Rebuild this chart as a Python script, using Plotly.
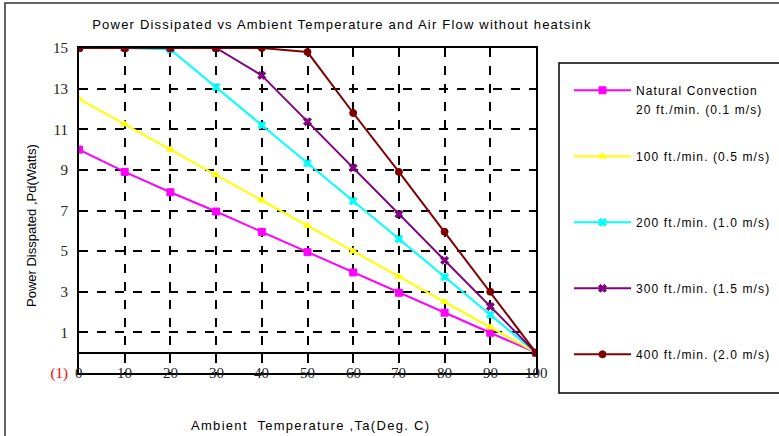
import plotly.graph_objects as go

ambient_temp = [0, 10, 20, 30, 40, 50, 60, 70, 80, 90, 100]
pd_natural = [10.0, 8.9, 7.9, 6.95, 5.95, 4.95, 3.95, 2.95, 1.97, 0.98, 0]
pd_100 = [12.5, 11.25, 10.0, 8.75, 7.5, 6.25, 5.0, 3.75, 2.5, 1.25, 0]
pd_200 = [15, 15, 14.93, 13.07, 11.2, 9.33, 7.47, 5.6, 3.73, 1.87, 0]
pd_300 = [15, 15, 15, 15, 13.65, 11.37, 9.1, 6.82, 4.55, 2.27, 0]
pd_400 = [15, 15, 15, 15, 15, 14.8, 11.8, 8.9, 5.95, 3.0, 0]

series_names = [
    "Natural Convection",
    "100 ft./min. (0.5 m/s)",
    "200 ft./min. (1.0 m/s)",
    "300 ft./min. (1.5 m/s)",
    "400 ft./min. (2.0 m/s)",
]
natural_second_line = "20 ft./min. (0.1 m/s)"
series_values = [pd_natural, pd_100, pd_200, pd_300, pd_400]
series_colors = ["#FF00FF", "#FFFF00", "#00FFFF", "#800080", "#800000"]
series_symbols = ["square", "triangle-up", "x", "x", "circle"]

y_tickvals = [-1, 1, 3, 5, 7, 9, 11, 13, 15]
y_ticktext = ["<span style='color:#FF0000'>(1)</span>", "1", "3", "5", "7", "9", "11", "13", "15"]
x_tickvals = [0, 10, 20, 30, 40, 50, 60, 70, 80, 90, 100]
x_ticktext = ["0", "10", "20", "30", "40", "50", "60", "70", "80", "90", "100"]

title_text = "Power Dissipated vs Ambient Temperature and Air Flow without heatsink"
x_title = "Ambient  Temperature ,Ta(Deg. C)"
y_title = "Power Disspated ,Pd(Watts)"

W, H = 779, 436
L, R, T, B = 79, 536, 48, 373
pw, ph = R - L, B - T


def px(xp):
    return (xp - L) / pw


def py(yp):
    return (B - yp) / ph


def spaced(t, ls):
    return "<span style='letter-spacing:%spx'>%s</span>" % (ls, t)


fig = go.Figure()
for name, vals, col, sym in zip(series_names, series_values, series_colors, series_symbols):
    fig.add_trace(go.Scatter(
        x=ambient_temp, y=vals, name=spaced(name, 1.1), mode="lines+markers",
        line=dict(color=col, width=2),
        marker=dict(symbol=sym, size=7, color=col, line=dict(color=col, width=1)),
        legendgroup=name,
    ))

serif = "Liberation Serif"
sans = "Liberation Sans"

annotations = []
for v, t in zip(x_tickvals, x_ticktext):
    annotations.append(dict(x=v, y=-1, xref="x", yref="y", text=t, showarrow=False,
                            xanchor="center", yanchor="middle",
                            font=dict(family=serif, size=15, color="#222")))
annotations.append(dict(x=px(310), y=py(425), xref="paper", yref="paper",
                        text=spaced(x_title, 1.3), showarrow=False,
                        xanchor="center", yanchor="middle",
                        font=dict(family=sans, size=13, color="black")))
annotations.append(dict(x=px(31), y=py(226), xref="paper", yref="paper",
                        text=y_title, showarrow=False, textangle=-90,
                        xanchor="center", yanchor="middle",
                        font=dict(family=sans, size=13, color="black")))
annotations.append(dict(x=px(634), y=py(110), xref="paper", yref="paper",
                        text=spaced(natural_second_line, 1.1), showarrow=False,
                        xanchor="left", yanchor="middle",
                        font=dict(family=sans, size=12, color="black")))

shapes = [
    dict(type="rect", xref="paper", yref="paper", x0=px(5), x1=px(795), y0=py(445), y1=py(3),
         line=dict(color="#333", width=1.5), layer="below"),
    dict(type="rect", xref="paper", yref="paper", x0=px(559), x1=px(795), y0=py(393), y1=py(63),
         line=dict(color="black", width=1.5)),
]

fig.update_layout(
    width=W, height=H,
    margin=dict(l=L, r=W - R, t=T, b=H - B, autoexpand=False),
    paper_bgcolor="white", plot_bgcolor="white",
    title=dict(text=spaced(title_text, 1.2),
               x=342 / W, y=1 - 24 / H, xref="container", yref="container",
               xanchor="center", yanchor="middle",
               font=dict(family=sans, size=13, color="black")),
    xaxis=dict(range=[0, 100], tickvals=x_tickvals, showticklabels=False, ticks="",
               showgrid=True, gridcolor="black", griddash="dash", gridwidth=1.5,
               showline=True, linecolor="black", linewidth=2, mirror=True, zeroline=False),
    yaxis=dict(range=[-1, 15], tickvals=y_tickvals, ticktext=y_ticktext, ticks="",
               tickfont=dict(family=serif, size=15, color="#222"), ticklabelstandoff=6,
               showgrid=True, gridcolor="black", griddash="dash", gridwidth=1.5,
               showline=True, linecolor="black", linewidth=2, mirror=True,
               zeroline=True, zerolinecolor="black", zerolinewidth=2),
    legend=dict(x=px(569), y=py(76), xanchor="left", yanchor="top",
                font=dict(family=sans, size=12, color="black"),
                bgcolor="rgba(0,0,0,0)", borderwidth=0,
                tracegroupgap=47, valign="top", itemwidth=57),
    showlegend=True,
    annotations=annotations,
    shapes=shapes,
)

fig.write_html("out.html", post_script="document.body.style.margin='0';",
               config={"displayModeBar": False})
